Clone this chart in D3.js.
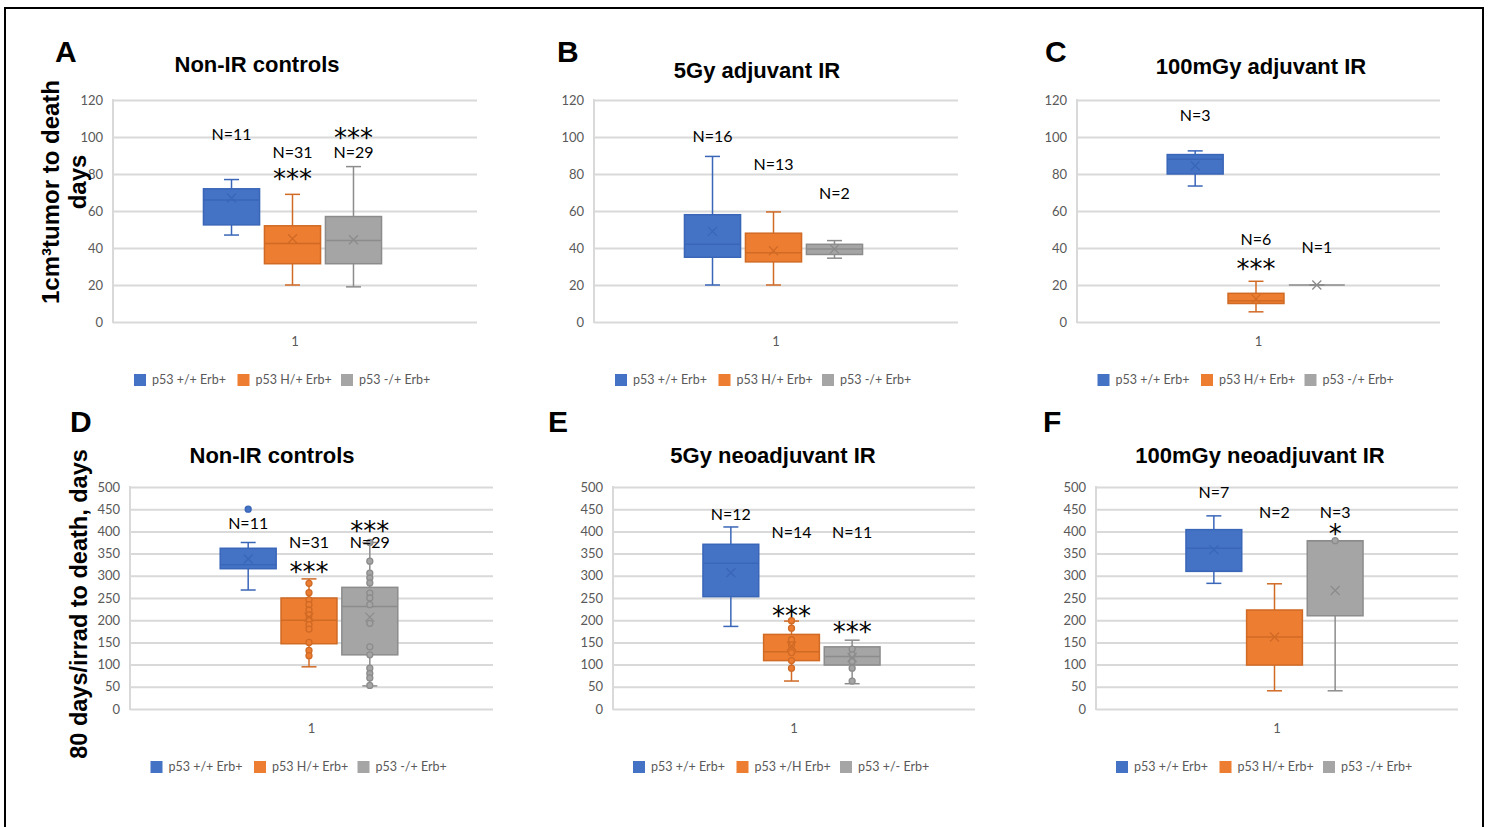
<!DOCTYPE html>
<html><head><meta charset="utf-8">
<script src="https://cdn.jsdelivr.net/npm/d3@7"></script>
<style>body{margin:0;background:#fff}svg{display:block}</style>
</head><body><svg id="c" width="1489" height="827"></svg>
<script>
// ---------- data ----------
const categories = ["1"];
const seriesNames = ["p53 +/+ Erb+", "p53 H/+ Erb+", "p53 -/+ Erb+"];
const seriesNamesE = ["p53 +/+ Erb+", "p53 +/H Erb+", "p53 +/- Erb+"];
const panelLetters = ["A", "B", "C", "D", "E", "F"];
const panelTitles = ["Non-IR controls", "5Gy adjuvant IR", "100mGy adjuvant IR",
                     "Non-IR controls", "5Gy neoadjuvant IR", "100mGy neoadjuvant IR"];
const ticksTop = [0, 20, 40, 60, 80, 100, 120];
const ticksBottom = [0, 50, 100, 150, 200, 250, 300, 350, 400, 450, 500];
const yTitleTop = ["1cm³tumor to death", "days"];
const yTitleBottom = "80 days/irrad to death, days";

// box stats per series: [min, q1, median, q3, max, mean]
const statsA = [[47, 52.5, 66, 72, 77, 67], [20, 31.5, 42.5, 52, 69, 45], [19, 31.5, 44, 57, 84, 44.5]];
const statsB = [[20, 35, 42, 58, 89.5, 49], [20, 32.5, 37.5, 48, 59.5, 38.5], [34.5, 36.5, 39.5, 42, 44, 39.5]];
const statsC = [[73.5, 80, 88, 90.5, 92.5, 84.5], [5.5, 10, 11.5, 15.5, 22, 12.5], [20, 20, 20, 20, 20, 20]];
const statsD = [[268, 316, 325, 362, 375, 338], [95, 147, 200, 250, 293, 207], [52, 122, 231, 274, 375, 207]];
const statsE = [[186, 253, 328, 371, 410, 307], [63, 109, 129, 168, 198, 142], [57, 99, 118, 140, 155, 116]];
const statsF = [[283, 310, 362, 404, 435, 359], [41, 99, 162, 223, 282, 162], [41, 210, 379, 379, 379, 267]];

// individual points (inner points / outliers)
const pointsA = [[], [], []];
const pointsB = [[], [], []];
const pointsC = [[], [], []];
const pointsD = [[450], [283, 262, 246, 235, 223, 212, 201, 190, 180, 150, 132, 120],
                 [375, 333, 306, 295, 284, 261, 250, 235, 193, 140, 122, 92, 80, 70, 53]];
const pointsE = [[], [199, 182, 156, 144, 127, 109, 92], [135, 122, 107, 92, 63]];
const pointsF = [[], [], [379]];

// annotations: [series index, text, value]
const notesA = [[0, "N=11", 101.5], [1, "N=31", 91.7], [1, "***", 80.7], [2, "N=29", 91.7], [2, "***", 102.5]];
const notesB = [[0, "N=16", 100.5], [1, "N=13", 84.9], [2, "N=2", 69.6]];
const notesC = [[0, "N=3", 111.7], [1, "N=6", 44.8], [1, "***", 31.8], [2, "N=1", 40.5]];
const notesD = [[0, "N=11", 417], [1, "N=31", 374], [1, "***", 323], [2, "***", 415], [2, "N=29", 374]];
const notesE = [[0, "N=12", 439], [1, "N=14", 398], [2, "N=11", 398], [1, "***", 223], [2, "***", 186]];
const notesF = [[0, "N=7", 487], [1, "N=2", 443], [2, "N=3", 443], [2, "*", 408]];

// ---------- style / layout ----------
const colors = ["#4472C4", "#ED7D31", "#A5A5A5"];
const strokeColors = ["#3A66B8", "#D06A25", "#8C8C8C"];
const gridColor = "#D9D9D9";
const textGray = "#595959";

const panels = [
  {stats: statsA, pts: pointsA, notes: notesA, names: seriesNames, ticks: ticksTop,
   left: 113, right: 477, top: 100, bottom: 322, title: [257, 71.5], letter: [55, 62]},
  {stats: statsB, pts: pointsB, notes: notesB, names: seriesNames, ticks: ticksTop,
   left: 594, right: 958, top: 100, bottom: 322, title: [757, 78], letter: [557, 62]},
  {stats: statsC, pts: pointsC, notes: notesC, names: seriesNames, ticks: ticksTop,
   left: 1077, right: 1440, top: 100, bottom: 322, title: [1261, 74], letter: [1045, 62]},
  {stats: statsD, pts: pointsD, notes: notesD, names: seriesNames, ticks: ticksBottom,
   left: 130, right: 493, top: 487, bottom: 709, title: [272, 463], letter: [70, 432]},
  {stats: statsE, pts: pointsE, notes: notesE, names: seriesNamesE, ticks: ticksBottom,
   left: 613, right: 975, top: 487, bottom: 709, title: [773, 463], letter: [548, 432]},
  {stats: statsF, pts: pointsF, notes: notesF, names: seriesNames, ticks: ticksBottom,
   left: 1096, right: 1458, top: 487, bottom: 709, title: [1260, 463], letter: [1043, 432]}
];

const svg = d3.select("#c");
svg.append("rect").attr("x", 5).attr("y", 8).attr("width", 1478).attr("height", 840)
  .attr("fill", "none").attr("stroke", "#000").attr("stroke-width", 2);

panels.forEach((cfg, pi) => {
  const g = svg.append("g");
  const maxV = cfg.ticks[cfg.ticks.length - 1];
  const y = d3.scaleLinear().domain([0, maxV]).range([cfg.bottom, cfg.top]);
  const x = d3.scaleBand().domain(categories).range([cfg.left, cfg.right - 5]).paddingOuter(0.508).paddingInner(0);
  const xs = d3.scaleBand().domain(d3.range(cfg.stats.length)).range([0, x.bandwidth()]).paddingInner(0.08);
  const cxOf = i => x(categories[0]) + xs(i) + xs.bandwidth() / 2;

  // y axis with gridlines
  g.append("g").attr("transform", `translate(${cfg.left},0)`)
    .call(d3.axisLeft(y).tickValues(cfg.ticks).tickSize(-(cfg.right - cfg.left)).tickPadding(10).tickFormat(d3.format("d")))
    .call(a => {
      a.select(".domain").remove();
      a.selectAll(".tick line").attr("stroke", gridColor).attr("stroke-width", 2);
      a.selectAll(".tick text").attr("fill", textGray).style("font-family", "Lato").style("font-size", "13px");
    });
  g.append("line").attr("x1", cfg.left).attr("x2", cfg.left).attr("y1", cfg.top - 1).attr("y2", cfg.bottom + 1)
    .attr("stroke", gridColor).attr("stroke-width", 2);

  // x axis
  g.append("g").attr("transform", `translate(0,${cfg.bottom})`)
    .call(d3.axisBottom(d3.scaleBand().domain(categories).range([cfg.left, cfg.right])).tickSize(0).tickPadding(15))
    .call(a => {
      a.select(".domain").remove();
      a.selectAll(".tick text").attr("fill", textGray).style("font-family", "Lato").style("font-size", "13px");
    });

  // boxes
  cfg.stats.forEach((s, i) => {
    const [mn, q1, md, q3, mx, mean] = s;
    const cx = cxOf(i), bw = xs.bandwidth(), cap = 15;
    const sc = strokeColors[i];
    const bg = g.append("g");
    bg.append("line").attr("x1", cx).attr("x2", cx).attr("y1", y(mx)).attr("y2", y(q3)).attr("stroke", sc).attr("stroke-width", 1.5);
    bg.append("line").attr("x1", cx).attr("x2", cx).attr("y1", y(q1)).attr("y2", y(mn)).attr("stroke", sc).attr("stroke-width", 1.5);
    [mn, mx].forEach(v => bg.append("line").attr("x1", cx - cap / 2).attr("x2", cx + cap / 2)
      .attr("y1", y(v)).attr("y2", y(v)).attr("stroke", sc).attr("stroke-width", 1.5));
    bg.append("rect").attr("x", cx - bw / 2).attr("width", bw).attr("y", y(q3)).attr("height", Math.max(0, y(q1) - y(q3)))
      .attr("fill", colors[i]).attr("stroke", sc).attr("stroke-width", 1.5);
    bg.append("line").attr("x1", cx - bw / 2).attr("x2", cx + bw / 2).attr("y1", y(md)).attr("y2", y(md))
      .attr("stroke", sc).attr("stroke-width", 1.5);
    cfg.pts[i].forEach(v => bg.append("circle").attr("cx", cx).attr("cy", y(v)).attr("r", 3)
      .attr("fill", colors[i]).attr("stroke", sc).attr("stroke-width", 1.3));
    const m = 4.5, my = y(mean);
    bg.append("path").attr("d", `M${cx - m},${my - m}L${cx + m},${my + m}M${cx - m},${my + m}L${cx + m},${my - m}`)
      .attr("stroke", sc).attr("stroke-width", 1.3).attr("fill", "none");
  });

  // annotations
  cfg.notes.forEach(([si, t, v]) => {
    const isStar = t.startsWith("*");
    g.append("text").attr("x", cxOf(si)).attr("y", y(v) + (isStar ? 15 : 5.5))
      .attr("text-anchor", "middle")
      .style("font-family", isStar ? "DejaVu Sans" : "Lato")
      .style("font-size", isStar ? "26px" : "16px")
      .attr("fill", "#000").text(t);
  });

  // title and letter
  g.append("text").attr("x", cfg.title[0]).attr("y", cfg.title[1]).attr("text-anchor", "middle")
    .style("font-family", "Liberation Sans").style("font-weight", "bold").style("font-size", "22px")
    .attr("fill", "#000").text(panelTitles[pi]);
  g.append("text").attr("x", cfg.letter[0]).attr("y", cfg.letter[1])
    .style("font-family", "Liberation Sans").style("font-weight", "bold").style("font-size", "30px")
    .attr("fill", "#000").text(panelLetters[pi]);

  // legend
  const center = (cfg.left + cfg.right) / 2;
  const legY = cfg.bottom + 58;
  const lg = g.append("g").attr("transform", `translate(${center - 161},${legY})`);
  cfg.names.forEach((n, i) => {
    const it = lg.append("g").attr("transform", `translate(${i * 103.5},0)`);
    it.append("rect").attr("x", 0).attr("y", -6).attr("width", 12).attr("height", 12).attr("fill", colors[i]);
    it.append("text").attr("x", 18).attr("y", 4.3).style("font-family", "Lato").style("font-size", "12.5px")
      .attr("fill", textGray).text(n);
  });
});

// y-axis titles
svg.append("text").attr("transform", "translate(50,192) rotate(-90)").attr("text-anchor", "middle")
  .attr("dominant-baseline", "central")
  .style("font-family", "Liberation Sans").style("font-weight", "bold").style("font-size", "24px")
  .text(yTitleTop[0]);
svg.append("text").attr("transform", "translate(77,182) rotate(-90)").attr("text-anchor", "middle")
  .attr("dominant-baseline", "central")
  .style("font-family", "Liberation Sans").style("font-weight", "bold").style("font-size", "24px")
  .text(yTitleTop[1]);
svg.append("text").attr("transform", "translate(79,604) rotate(-90)").attr("text-anchor", "middle")
  .attr("dominant-baseline", "central")
  .style("font-family", "Liberation Sans").style("font-weight", "bold").style("font-size", "23.5px")
  .text(yTitleBottom);
</script></body></html>
